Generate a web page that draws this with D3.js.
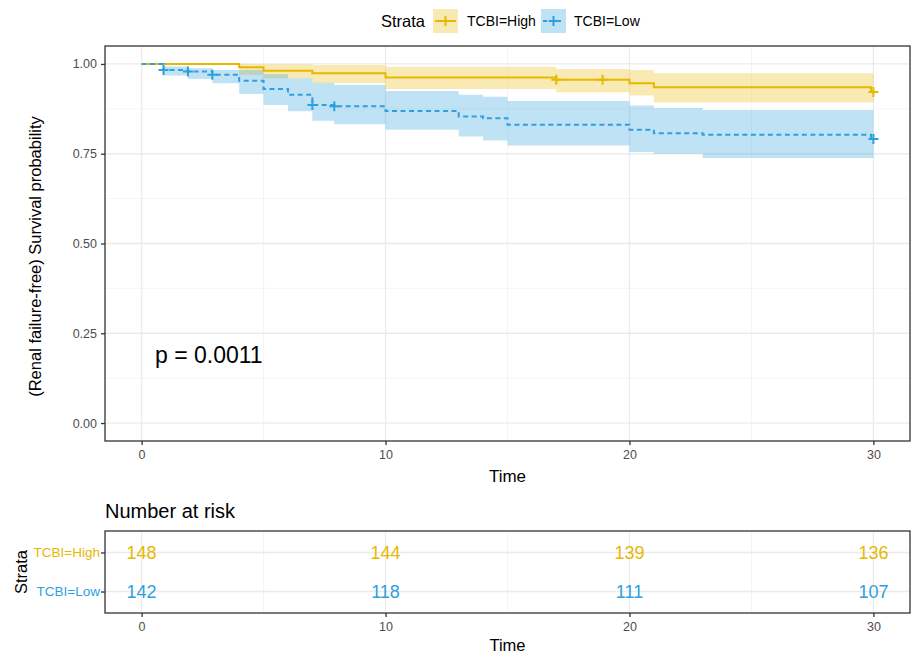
<!DOCTYPE html>
<html lang="en">
<head>
<meta charset="utf-8">
<title>Survival curve</title>
<script src="https://cdnjs.cloudflare.com/ajax/libs/d3/7.8.5/d3.min.js"></script>
<style>
  body { margin: 0; background: #fff; }
  svg { font-family: "Liberation Sans", Arial, sans-serif; display: block; }
</style>
</head>
<body>
<div id="chart"></div>
<script>
// ---- data ----
var strata = ["TCBI=High", "TCBI=Low"];
var colours = ["#E7B800", "#2E9FDF"];

var timeHigh  = [0, 4, 5, 7, 10, 17, 20, 21, 29.9, 30];
var survHigh  = [1, 0.991, 0.981, 0.974, 0.962, 0.956, 0.946, 0.935, 0.922, 0.922];
var upperHigh = [1, 1.000, 0.999, 0.997, 0.992, 0.986, 0.983, 0.974, 0.974, 0.974];
var lowerHigh = [1, 0.969, 0.960, 0.947, 0.930, 0.921, 0.912, 0.893, 0.893, 0.893];
var censorHigh = [17, 18.9, 30];

var timeLow  = [0, 0.9, 1.9, 2.9, 4, 5, 6, 7, 7.9, 10, 13, 14, 15, 20, 21, 23, 29.9, 30];
var survLow  = [1, 0.983, 0.979, 0.970, 0.953, 0.930, 0.914, 0.886, 0.882, 0.869, 0.854, 0.849, 0.831, 0.817, 0.807, 0.803, 0.791, 0.791];
var upperLow = [1, 0.993, 0.988, 0.983, 0.983, 0.971, 0.960, 0.948, 0.942, 0.925, 0.914, 0.909, 0.897, 0.884, 0.877, 0.872, 0.872, 0.872];
var lowerLow = [1, 0.968, 0.958, 0.946, 0.916, 0.886, 0.868, 0.842, 0.832, 0.817, 0.798, 0.787, 0.773, 0.755, 0.750, 0.738, 0.738, 0.738];
var censorLow = [0.9, 1.9, 2.9, 7, 7.9, 30];

var riskTimes = [0, 10, 20, 30];
var riskHigh = [148, 144, 139, 136];
var riskLow  = [142, 118, 111, 107];

var xTicks = [0, 10, 20, 30];
var xMinor = [5, 15, 25];
var yTicks = [0, 0.25, 0.5, 0.75, 1];
var yMinor = [0.125, 0.375, 0.625, 0.875];
var pValue = "p = 0.0011";

// ---- layout ----
var w = 914, h = 655;
var left = 105, right = 910;
var top1 = 46, bottom1 = 441;
var top2 = 531, bottom2 = 613;

var x = d3.scaleLinear().domain([-1.5, 31.5]).range([left, right]);
var y = d3.scaleLinear().domain([-0.05, 1.05]).range([bottom1, top1]);
var yRisk = d3.scalePoint().domain(strata).range([top2, bottom2]).padding(0.55);

var groups = [
  {name: strata[0], col: colours[0], t: timeHigh, s: survHigh, up: upperHigh, lo: lowerHigh, cens: censorHigh, dash: null},
  {name: strata[1], col: colours[1], t: timeLow, s: survLow, up: upperLow, lo: lowerLow, cens: censorLow, dash: "5,3.5"}
];

var svg = d3.select("#chart").append("svg").attr("width", w).attr("height", h);

// ---- main panel ----
var grid = svg.append("g");
grid.selectAll(".ymin").data(yMinor).enter().append("line")
  .attr("x1", left).attr("x2", right)
  .attr("y1", function(d) { return y(d); }).attr("y2", function(d) { return y(d); })
  .attr("stroke", "#f2f2f2").attr("stroke-width", 0.8);
grid.selectAll(".xmin").data(xMinor).enter().append("line")
  .attr("y1", top1).attr("y2", bottom1)
  .attr("x1", function(d) { return x(d); }).attr("x2", function(d) { return x(d); })
  .attr("stroke", "#f2f2f2").attr("stroke-width", 0.8);
grid.selectAll(".ymaj").data(yTicks).enter().append("line")
  .attr("x1", left).attr("x2", right)
  .attr("y1", function(d) { return y(d); }).attr("y2", function(d) { return y(d); })
  .attr("stroke", "#ebebeb").attr("stroke-width", 1.3);
grid.selectAll(".xmaj").data(xTicks).enter().append("line")
  .attr("y1", top1).attr("y2", bottom1)
  .attr("x1", function(d) { return x(d); }).attr("x2", function(d) { return x(d); })
  .attr("stroke", "#ebebeb").attr("stroke-width", 1.3);

var area = d3.area().curve(d3.curveStepAfter);
var line = d3.line().curve(d3.curveStepAfter);

groups.forEach(function(g) {
  var pts = g.t.map(function(t, i) { return i; });
  svg.append("path")
    .attr("d", area.x(function(i) { return x(g.t[i]); })
      .y0(function(i) { return y(g.lo[i]); })
      .y1(function(i) { return y(g.up[i]); })(pts))
    .attr("fill", g.col).attr("fill-opacity", 0.3);
});

function stepValue(g, t) {
  var k = 0;
  for (var i = 0; i < g.t.length; i++) { if (g.t[i] <= t) k = i; }
  return g.s[k];
}

groups.forEach(function(g) {
  var pts = g.t.map(function(t, i) { return i; });
  svg.append("path")
    .attr("d", line.x(function(i) { return x(g.t[i]); })
      .y(function(i) { return y(g.s[i]); })(pts))
    .attr("fill", "none").attr("stroke", g.col).attr("stroke-width", 2)
    .attr("stroke-dasharray", g.dash);
  svg.selectAll(null).data(g.cens).enter().append("path")
    .attr("transform", function(d) { return "translate(" + x(d) + "," + y(stepValue(g, d)) + ")"; })
    .attr("d", "M-5,0H5M0,-5V5")
    .attr("stroke", g.col).attr("stroke-width", 2);
});

svg.append("rect").attr("x", left).attr("y", top1)
  .attr("width", right - left).attr("height", bottom1 - top1)
  .attr("fill", "none").attr("stroke", "#333").attr("stroke-width", 1.3);

var xAxis = d3.axisBottom(x).tickValues(xTicks).tickSize(4).tickPadding(5).tickFormat(d3.format("d"));
var yAxis = d3.axisLeft(y).tickValues(yTicks).tickSize(4).tickPadding(4).tickFormat(d3.format(".2f"));

function styleAxis(sel) {
  sel.select(".domain").remove();
  sel.selectAll(".tick line").attr("stroke", "#333").attr("stroke-width", 1.3);
  sel.selectAll(".tick text").attr("fill", "#4d4d4d").style("font-size", "12.5px")
    .style("font-family", "Liberation Sans, Arial, sans-serif");
}

svg.append("g").attr("transform", "translate(0," + bottom1 + ")").call(xAxis).call(styleAxis);
svg.append("g").attr("transform", "translate(" + left + ",0)").call(yAxis).call(styleAxis);

svg.append("text").attr("x", (left + right) / 2).attr("y", 482)
  .attr("text-anchor", "middle").style("font-size", "17px").text("Time");
svg.append("text")
  .attr("transform", "translate(41," + ((top1 + bottom1) / 2 + 13) + ") rotate(-90)")
  .attr("text-anchor", "middle").style("font-size", "16.5px")
  .text("(Renal failure-free) Survival probability");

svg.append("text").attr("x", 155).attr("y", 363).style("font-size", "23px").text(pValue);

// ---- legend ----
var leg = svg.append("g");
leg.append("text").attr("x", 381).attr("y", 27).style("font-size", "16.5px").text("Strata");
var legX = [433, 541];
var legTextX = [467, 574];
groups.forEach(function(g, i) {
  var k = leg.append("g").attr("transform", "translate(" + legX[i] + ",9)");
  k.append("rect").attr("width", 25).attr("height", 24).attr("fill", g.col).attr("fill-opacity", 0.3);
  k.append("line").attr("x1", 2).attr("x2", 23).attr("y1", 12).attr("y2", 12)
    .attr("stroke", g.col).attr("stroke-width", 2).attr("stroke-dasharray", g.dash ? "4,3" : null);
  k.append("path").attr("d", "M7.5,12H17.5M12.5,7V17").attr("stroke", g.col).attr("stroke-width", 2);
  leg.append("text").attr("x", legTextX[i]).attr("y", 26).style("font-size", "14px").text(g.name);
});

// ---- risk table ----
svg.append("text").attr("x", left).attr("y", 518).style("font-size", "20px").text("Number at risk");

var rg = svg.append("g");
rg.selectAll(".rx").data(xTicks).enter().append("line")
  .attr("y1", top2).attr("y2", bottom2)
  .attr("x1", function(d) { return x(d); }).attr("x2", function(d) { return x(d); })
  .attr("stroke", "#ebebeb").attr("stroke-width", 1.3);
rg.selectAll(".rxm").data(xMinor).enter().append("line")
  .attr("y1", top2).attr("y2", bottom2)
  .attr("x1", function(d) { return x(d); }).attr("x2", function(d) { return x(d); })
  .attr("stroke", "#f2f2f2").attr("stroke-width", 0.8);
rg.selectAll(".ry").data(strata).enter().append("line")
  .attr("x1", left).attr("x2", right)
  .attr("y1", function(d) { return yRisk(d); }).attr("y2", function(d) { return yRisk(d); })
  .attr("stroke", "#ebebeb").attr("stroke-width", 1.3);

var riskRows = [riskHigh, riskLow];
groups.forEach(function(g, i) {
  svg.selectAll(null).data(riskRows[i]).enter().append("text")
    .attr("x", function(d, j) { return x(riskTimes[j]); })
    .attr("y", yRisk(g.name))
    .attr("dy", "0.36em").attr("text-anchor", "middle")
    .attr("fill", g.col).style("font-size", "18px")
    .text(function(d) { return d; });
});

svg.append("rect").attr("x", left).attr("y", top2)
  .attr("width", right - left).attr("height", bottom2 - top2)
  .attr("fill", "none").attr("stroke", "#333").attr("stroke-width", 1.3);

svg.append("g").attr("transform", "translate(0," + bottom2 + ")").call(xAxis).call(styleAxis);
var yAxisRisk = d3.axisLeft(yRisk).tickSize(4).tickPadding(1);
svg.append("g").attr("transform", "translate(" + left + ",0)").call(yAxisRisk).call(styleAxis)
  .selectAll(".tick text")
  .attr("fill", function(d, i) { return colours[strata.indexOf(d)]; })
  .style("font-size", "13.5px");

svg.append("text").attr("x", (left + right) / 2).attr("y", 651)
  .attr("text-anchor", "middle").style("font-size", "16.5px").text("Time");
svg.append("text")
  .attr("transform", "translate(27," + ((top2 + bottom2) / 2) + ") rotate(-90)")
  .attr("text-anchor", "middle").style("font-size", "16.5px").text("Strata");
</script>
</body>
</html>
